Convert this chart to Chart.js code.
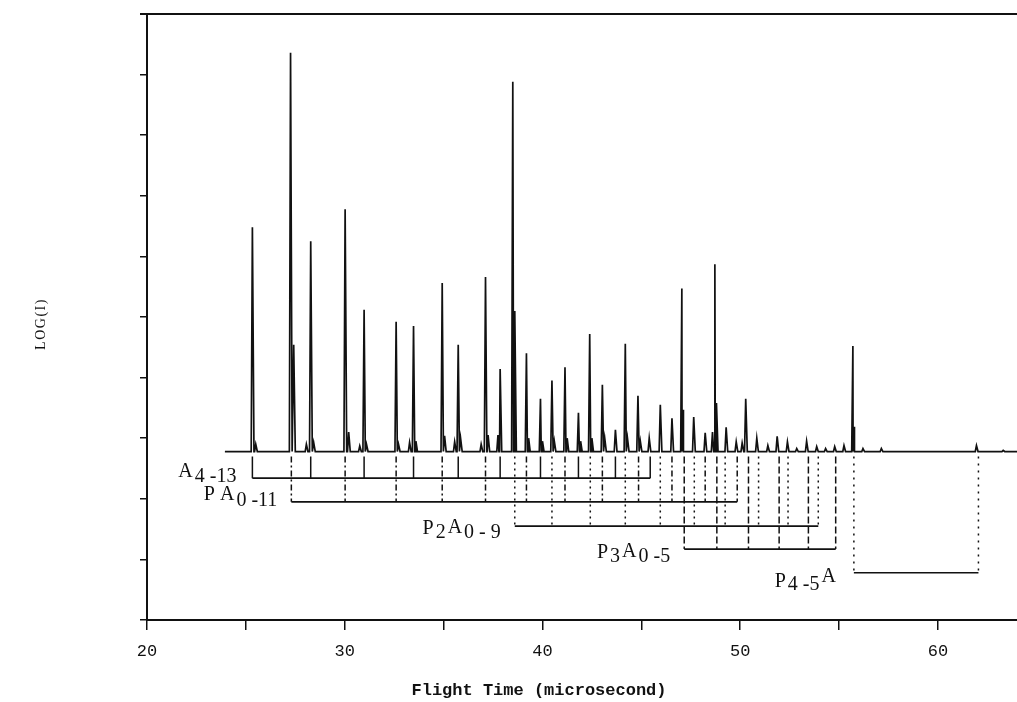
<!DOCTYPE html>
<html>
<head>
<meta charset="utf-8">
<script src="https://cdn.jsdelivr.net/npm/chart.js@4.4.1/dist/chart.umd.min.js"></script>
<style>
  html, body { margin: 0; padding: 0; background: #fff; }
  #wrap { width: 1017px; height: 702px; position: relative; }
</style>
</head>
<body>
<div id="wrap"><canvas id="c" width="1017" height="702"></canvas></div>
<script>
// ---- data ----
const xTickValues = [20, 25, 30, 35, 40, 45, 50, 55, 60];
const xTickLabels = ["20", "", "30", "", "40", "", "50", "", "60"];
const spectrumStart = 23.94;
const spectrumEnd = 64;
const baseline = 2.78;

const peakTimes = [25.33, 25.5, 27.26, 27.42, 28.06, 28.28, 28.43, 30.02, 30.2, 30.76, 30.98, 31.1,
  32.6, 32.72, 33.28, 33.48, 33.6, 34.93, 35.05, 35.56, 35.74, 35.86, 36.9, 37.12, 37.25, 37.75,
  37.86, 38.5, 38.6, 39.19, 39.3, 39.9, 40.0, 40.48, 40.6, 41.14, 41.25, 41.82, 41.93, 42.39, 42.5,
  43.03, 43.15, 43.69, 44.19, 44.3, 44.83, 44.95, 45.4, 45.96, 46.55, 47.05, 47.12, 47.65, 48.23,
  48.6, 48.72, 48.8, 49.29, 49.8, 50.1, 50.28, 50.84, 51.4, 51.87, 52.39, 52.86, 53.36, 53.87,
  54.32, 54.78, 55.25, 55.7, 55.77, 56.21, 57.14, 61.95, 63.3];
const peakHeights = [6.48, 2.9, 9.36, 4.54, 2.9, 6.25, 2.93, 6.78, 3.1, 2.87, 5.12, 2.9,
  4.92, 2.9, 2.93, 4.85, 2.95, 5.56, 3.04, 2.94, 4.54, 3.0, 2.9, 5.66, 3.05, 3.05,
  4.14, 8.88, 5.1, 4.4, 3.0, 3.65, 2.95, 3.95, 2.95, 4.17, 3.0, 3.42, 2.95, 4.72, 3.0,
  3.88, 3.0, 3.14, 4.56, 3.0, 3.7, 2.95, 3.0, 3.55, 3.33, 5.47, 3.47, 3.35, 3.09,
  3.1, 5.87, 3.58, 3.18, 2.94, 2.92, 3.65, 3.0, 2.88, 3.03, 2.94, 2.83, 2.95, 2.86,
  2.83, 2.86, 2.88, 4.52, 3.19, 2.83, 2.83, 2.88, 2.8];

// assignment brackets
const seriesA = [25.33, 28.28, 30.98, 33.48, 35.74, 37.86, 39.9, 41.82, 43.69, 45.45];
const seriesPA = [27.3, 30.02, 32.6, 34.93, 37.12, 39.19, 41.14, 43.03, 44.86, 46.55, 48.23, 49.85];
const seriesP2A = [38.6, 40.48, 42.42, 44.19, 45.96, 47.68, 49.24, 50.93, 52.42, 53.95];
const seriesP3A = [47.17, 48.82, 50.42, 51.97, 53.45, 54.83];
const seriesP4A = [55.75, 62.05];
const bracketTop = 2.70;
const bracketLevels = [2.34, 1.95, 1.55, 1.17, 0.78];

// ---- build datasets ----
const spikeLeft = 0.06, spikeRight = 0.08;
let spec = [{x: spectrumStart, y: baseline}];
peakTimes.forEach((t, i) => {
  spec.push({x: t - spikeLeft, y: baseline});
  spec.push({x: t, y: peakHeights[i]});
  spec.push({x: t + spikeRight, y: baseline});
});
spec.push({x: spectrumEnd, y: baseline});
spec.sort((a, b) => a.x - b.x);

function verticals(times, level) {
  const d = [];
  times.forEach(t => { d.push({x: t, y: bracketTop}, {x: t, y: level}, {x: t, y: null}); });
  return d;
}
function horizontal(times, level) {
  return [{x: times[0], y: level}, {x: times[times.length - 1], y: level}];
}
const lineBase = {showLine: true, pointRadius: 0, borderColor: '#111', tension: 0, spanGaps: false};
const brackets = [
  {t: seriesA, dash: []},
  {t: seriesPA, dash: [6, 3, 2, 3]},
  {t: seriesP2A, dash: [2, 4]},
  {t: seriesP3A, dash: [7, 3]},
  {t: seriesP4A, dash: [2, 5]}
];
const datasets = [Object.assign({}, lineBase, {data: spec, borderWidth: 1.7})];
brackets.forEach((b, i) => {
  datasets.push(Object.assign({}, lineBase, {data: verticals(b.t, bracketLevels[i]), borderWidth: 1.5, borderDash: b.dash}));
  datasets.push(Object.assign({}, lineBase, {data: horizontal(b.t, bracketLevels[i]), borderWidth: 1.7}));
});

const labelDefs = [
  {parts: [['A', 0], ['4 -13', 5]], start: seriesA[0], gap: 14, level: bracketLevels[0], dy: -1},
  {parts: [['P A', 0], ['0 -11', 6]], start: seriesPA[0], gap: 12, level: bracketLevels[1], dy: -2},
  {parts: [['P', 0], ['2', 4], ['A', -1], ['0 - 9', 4]], start: seriesP2A[0], gap: 12, level: bracketLevels[2], dy: 8},
  {parts: [['P', 0], ['3', 4], ['A', -1], ['0 -5', 4]], start: seriesP3A[0], gap: 12, level: bracketLevels[3], dy: 9},
  {parts: [['P', 0], ['4 -5', 3], ['A', -5]], start: seriesP4A[0], gap: 16, level: bracketLevels[4], dy: 14}
];

const decor = {
  id: 'decor',
  afterDraw(chart) {
    const ctx = chart.ctx, a = chart.chartArea;
    const xs = chart.scales.x, ys = chart.scales.y;
    ctx.save();
    // top frame
    ctx.strokeStyle = '#111'; ctx.lineWidth = 2;
    ctx.beginPath(); ctx.moveTo(140, a.top); ctx.lineTo(a.right, a.top); ctx.stroke();
    // bracket labels
    ctx.fillStyle = '#111';
    ctx.font = '20px "Liberation Serif", serif';
    ctx.textBaseline = 'alphabetic';
    labelDefs.forEach(l => {
      const xEnd = xs.getPixelForValue(l.start) - l.gap;
      const yb = ys.getPixelForValue(l.level) + l.dy;
      let w = 0;
      l.parts.forEach(p => { w += ctx.measureText(p[0]).width + 2; });
      let x = xEnd - w;
      l.parts.forEach(p => {
        ctx.textAlign = 'left';
        ctx.fillText(p[0], x, yb + p[1]);
        x += ctx.measureText(p[0]).width + 2;
      });
    });
    // axis titles
    ctx.font = 'bold 17px "Liberation Mono", monospace';
    ctx.textAlign = 'center'; ctx.textBaseline = 'middle';
    ctx.fillText('Flight Time (microsecond)', 539, 691);
    ctx.translate(41, 324); ctx.rotate(-Math.PI / 2);
    ctx.font = '14px "Liberation Serif", serif';
    if ('letterSpacing' in ctx) ctx.letterSpacing = '1.5px';
    ctx.fillText('LOG(I)', 0, 0);
    ctx.restore();
  }
};

new Chart(document.getElementById('c'), {
  type: 'scatter',
  data: {datasets},
  plugins: [decor],
  options: {
    responsive: false,
    animation: false,
    events: [],
    layout: {padding: {top: 14, right: 0, left: 0, bottom: 0}},
    plugins: {legend: {display: false}, tooltip: {enabled: false}},
    scales: {
      x: {
        type: 'linear', min: 20, max: 64,
        afterBuildTicks: s => { s.ticks = xTickValues.map(v => ({value: v})); },
        afterFit: s => { s.height = 82; },
        grid: {drawOnChartArea: false, drawTicks: true, tickLength: 10, color: '#111', lineWidth: 1.5},
        border: {display: true, color: '#111', width: 2},
        ticks: {
          color: '#111', padding: 11, maxRotation: 0, autoSkip: false,
          font: {family: '"Liberation Mono", monospace', size: 17},
          callback: (v) => { const i = xTickValues.indexOf(v); return i >= 0 ? xTickLabels[i] : ''; }
        }
      },
      y: {
        type: 'linear', min: 0, max: 10,
        afterFit: s => { s.width = 147; },
        grid: {drawOnChartArea: false, drawTicks: true, tickLength: 7, color: '#111', lineWidth: 1.5},
        border: {display: true, color: '#111', width: 2},
        ticks: {stepSize: 1, display: false}
      }
    }
  }
});
</script>
</body>
</html>
